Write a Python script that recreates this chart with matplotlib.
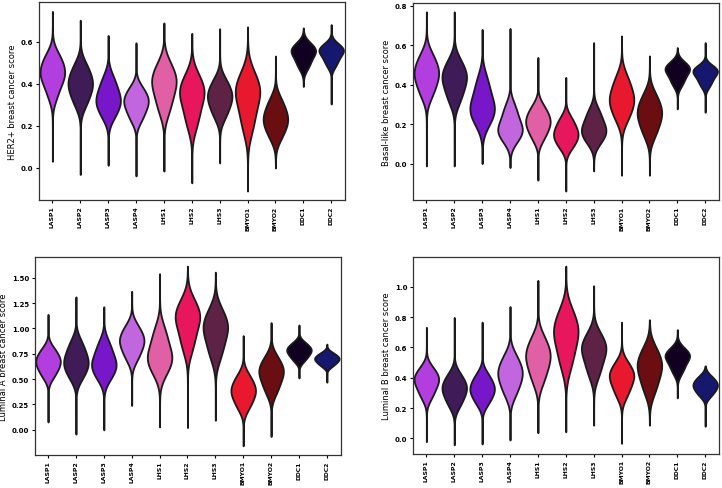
import numpy as np
import matplotlib
matplotlib.use("Agg")
import matplotlib.pyplot as plt
from matplotlib import cbook
from matplotlib.ticker import MultipleLocator, FormatStrFormatter

# cell groups and their colours
groups = ['LASP1', 'LASP2', 'LASP3', 'LASP4', 'LHS1', 'LHS2', 'LHS3',
          'BMYO1', 'BMYO2', 'DDC1', 'DDC2']
colors = ['#b23ee0', '#3f1b58', '#7717c9', '#c266e0', '#e05fa5', '#e8175d',
          '#5e2247', '#e8192f', '#6b0e12', '#110020', '#16176e']

# per group: [min, q10, q25, q50, q75, q90, max]
her2 = [
    [0.03, 0.34, 0.40, 0.45, 0.50, 0.54, 0.745],
    [-0.033, 0.297, 0.346, 0.398, 0.448, 0.494, 0.703],
    [0.011, 0.240, 0.282, 0.327, 0.381, 0.432, 0.63],
    [-0.04, 0.224, 0.266, 0.311, 0.349, 0.384, 0.595],
    [-0.017, 0.265, 0.329, 0.398, 0.450, 0.499, 0.69],
    [-0.073, 0.196, 0.267, 0.343, 0.395, 0.443, 0.64],
    [0.022, 0.239, 0.285, 0.335, 0.380, 0.422, 0.662],
    [-0.112, 0.178, 0.258, 0.343, 0.400, 0.453, 0.671],
    [-0.002, 0.140, 0.185, 0.232, 0.282, 0.328, 0.532],
    [0.387, 0.475, 0.510, 0.548, 0.572, 0.594, 0.666],
    [0.303, 0.485, 0.517, 0.551, 0.571, 0.590, 0.682],
]
basal = [
    [-0.012, 0.341, 0.395, 0.453, 0.506, 0.555, 0.768],
    [-0.012, 0.311, 0.367, 0.428, 0.478, 0.525, 0.768],
    [0.0, 0.196, 0.243, 0.293, 0.366, 0.435, 0.679],
    [-0.02, 0.111, 0.146, 0.184, 0.242, 0.296, 0.684],
    [-0.084, 0.122, 0.165, 0.210, 0.253, 0.292, 0.537],
    [-0.139, 0.078, 0.113, 0.151, 0.194, 0.233, 0.436],
    [-0.037, 0.103, 0.138, 0.176, 0.226, 0.273, 0.612],
    [-0.059, 0.220, 0.272, 0.327, 0.387, 0.444, 0.646],
    [-0.059, 0.140, 0.194, 0.252, 0.305, 0.354, 0.545],
    [0.277, 0.397, 0.432, 0.470, 0.493, 0.514, 0.587],
    [0.26, 0.392, 0.424, 0.458, 0.479, 0.494, 0.612],
]
luma = [
    [0.078, 0.521, 0.592, 0.668, 0.739, 0.804, 1.138],
    [-0.042, 0.505, 0.587, 0.675, 0.778, 0.873, 1.311],
    [0.0, 0.498, 0.576, 0.659, 0.766, 0.867, 1.213],
    [0.241, 0.691, 0.778, 0.871, 0.954, 1.032, 1.366],
    [0.029, 0.551, 0.642, 0.740, 0.877, 1.005, 1.539],
    [0.023, 0.790, 0.931, 1.083, 1.186, 1.281, 1.614],
    [0.095, 0.711, 0.843, 0.985, 1.092, 1.193, 1.555],
    [-0.157, 0.211, 0.294, 0.382, 0.465, 0.543, 0.929],
    [-0.065, 0.362, 0.458, 0.561, 0.644, 0.722, 1.057],
    [0.512, 0.681, 0.728, 0.779, 0.821, 0.861, 1.034],
    [0.47, 0.628, 0.662, 0.698, 0.730, 0.760, 0.845],
]
lumb = [
    [-0.022, 0.267, 0.322, 0.380, 0.426, 0.469, 0.733],
    [-0.043, 0.212, 0.267, 0.326, 0.378, 0.427, 0.798],
    [-0.037, 0.225, 0.274, 0.326, 0.378, 0.427, 0.767],
    [-0.011, 0.285, 0.352, 0.424, 0.489, 0.550, 0.87],
    [0.037, 0.369, 0.448, 0.533, 0.605, 0.672, 1.043],
    [0.043, 0.470, 0.574, 0.685, 0.770, 0.849, 1.137],
    [0.087, 0.412, 0.491, 0.576, 0.638, 0.696, 1.007],
    [-0.033, 0.276, 0.337, 0.402, 0.454, 0.503, 0.767],
    [0.087, 0.303, 0.382, 0.467, 0.536, 0.600, 0.783],
    [0.267, 0.432, 0.481, 0.533, 0.565, 0.596, 0.717],
    [0.08, 0.279, 0.312, 0.348, 0.381, 0.411, 0.478],
]

# values, y label, y tick step, tick format, axes rect
panels = [
    (her2, 'HER2+ breast cancer score', 0.2, '%.1f', [0.054, 0.589, 0.424, 0.404]),
    (basal, 'Basal-like breast cancer score', 0.2, '%.1f', [0.572, 0.589, 0.424, 0.403]),
    (luma, 'Luminal A breast cancer score', 0.25, '%.2f', [0.048, 0.068, 0.424, 0.404]),
    (lumb, 'Luminal B breast cancer score', 0.2, '%.1f', [0.572, 0.070, 0.424, 0.402]),
]

# weight of each quantile point in the density
qweights = np.array([1.0, 1.6, 2.4, 1.6, 1.0])


def kde(x, coords):
    # min / max only set the tail length, the body comes from the quantiles
    body = np.sort(x)[1:-1]
    h = body.std() * 0.6
    k = np.exp(-0.5 * ((coords[:, None] - body[None, :]) / h) ** 2)
    d = (k * qweights).sum(axis=1)
    return d + d.max() * 0.004


fig = plt.figure(figsize=(7.22, 4.89), dpi=100)

for vals, ylabel, step, fmt, rect in panels:
    ax = fig.add_axes(rect)
    stats = cbook.violin_stats([np.array(v) for v in vals], kde, points=300)
    parts = ax.violin(stats, positions=range(len(groups)), widths=0.88,
                      showextrema=False)
    for body, c in zip(parts['bodies'], colors):
        body.set_facecolor(c)
        body.set_edgecolor('#1a1a1a')
        body.set_linewidth(1.3)
        body.set_alpha(1)
    ax.set_xlim(-0.48, len(groups) - 0.5)
    ax.set_xticks(range(len(groups)))
    ax.set_xticklabels(groups, rotation=90, fontsize=4.4, fontweight='bold')
    ax.yaxis.set_major_locator(MultipleLocator(step))
    ax.yaxis.set_major_formatter(FormatStrFormatter(fmt))
    for t in ax.get_yticklabels():
        t.set_fontsize(5)
        t.set_fontweight('bold')
    ax.tick_params(length=2.5, width=0.8, pad=1.5)
    ax.set_ylabel(ylabel, fontsize=6, labelpad=3)
    for s in ax.spines.values():
        s.set_color('#333333')
        s.set_linewidth(0.9)

plt.savefig('out.png', dpi=100)
